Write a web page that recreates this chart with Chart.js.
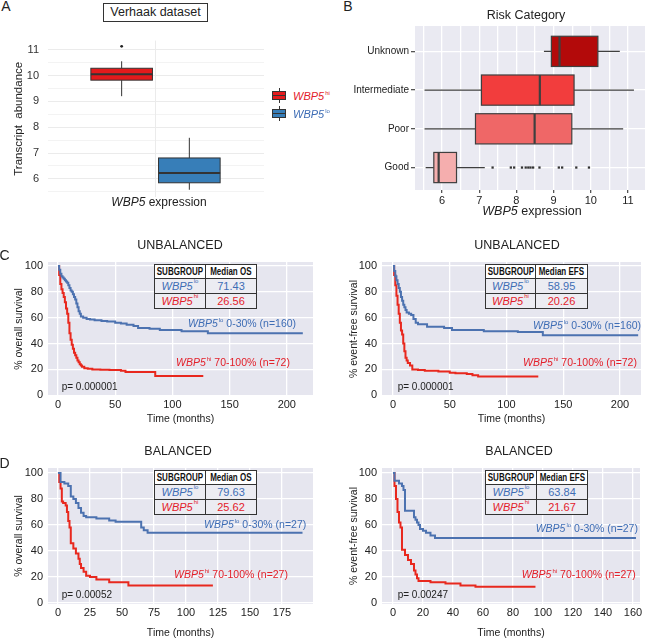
<!DOCTYPE html>
<html>
<head>
<meta charset="utf-8">
<title>WBP5 expression</title>
<script src="https://cdn.jsdelivr.net/npm/chart.js@4.4.1/dist/chart.umd.min.js"></script>
<style>
  body { margin: 0; background: #fff; }
  #fig { position: relative; width: 649px; height: 639px; overflow: hidden; font-family: "Liberation Sans", Arial, sans-serif; color: #222; }
  #fig canvas { position: absolute; }
  .t { position: absolute; white-space: nowrap; line-height: 1; }
  .c { transform: translate(-50%, -50%); }
  .l { transform: translateY(-50%); }
  sup { font-size: 6px; vertical-align: baseline; position: relative; top: -5px; font-style: normal; margin-left: 1px; }
  .blue { color: #3E6DB5; }
  .red { color: #E3202A; }
  .tbl { position: absolute; display: grid; background: #333; padding: 1px; gap: 1px; grid-template-rows: 13px 14px 14px; }
  .tbl div { display: flex; align-items: center; justify-content: center; background: #ECECF2; font-size: 11px; line-height: 1; white-space: nowrap; }
  .tbl .h { background: #fff; font-weight: bold; font-size: 10px; color: #111; }
  .tbl .h span { display: inline-block; transform: scaleX(0.8); }
  .box { position: absolute; box-sizing: border-box; }
</style>
</head>
<body>
<div id="fig">
  <canvas id="chartA" width="268" height="190" style="left:0px;top:25px"></canvas>
  <canvas id="chartB" width="319" height="197" style="left:330px;top:18px"></canvas>
  <canvas id="chartC1" width="325" height="175" style="left:0px;top:250px"></canvas>
  <canvas id="chartC2" width="324" height="175" style="left:325px;top:250px"></canvas>
  <canvas id="chartD1" width="325" height="184" style="left:0px;top:455px"></canvas>
  <canvas id="chartD2" width="324" height="184" style="left:325px;top:455px"></canvas>
</div>
<script>
// Panel A: Verhaak dataset (whisker low, Q1, median, Q3, whisker high)
const aTicks = [6, 7, 8, 9, 10, 11];
const aPos = [-0.5, 0.5];
const aHiStats = [9.2, 9.82, 10.05, 10.28, 10.55];
const aLoStats = [5.58, 5.85, 6.23, 6.81, 7.59];
const aHiOutliers = [11.13];

// Panel B: risk category
const riskCats = ['Unknown', 'Intermediate', 'Poor', 'Good'];
const bTicks = [6, 7, 8, 9, 10, 11];
const unknownStats = [8.74, 8.94, 9.16, 10.19, 10.78];
const interStats = [5.53, 7.06, 8.63, 9.55, 11.16];
const poorStats = [5.53, 6.9, 8.49, 9.49, 10.87];
const goodStats = [5.56, 5.78, 5.91, 6.39, 7.15];
const goodOutliers = [7.36, 7.85, 7.94, 8.15, 8.25, 8.32, 8.38, 8.45, 8.62, 9.14, 9.23, 9.61, 9.95];
const riskStats = [unknownStats, interStats, poorStats, goodStats];
const riskFills = ['#B30A0A', '#F23D3D', '#EF6767', '#F5AEAE'];

// Kaplan-Meier curves (months, % surviving)
const survTicks = [0, 20, 40, 60, 80, 100];
const timeTicksC = [0, 50, 100, 150, 200];
const timeTicksD1 = [0, 25, 50, 75, 100, 125, 150, 175];
const timeTicksD2 = [0, 20, 40, 60, 80, 100, 120, 140, 160];

const osUnbLoT = [0, 1, 2, 3, 4, 5, 6, 7, 8, 9, 10, 11, 12, 13, 14, 15, 16, 17, 18, 19, 20, 22, 25, 28, 32, 38, 43, 50, 55, 60, 66, 70, 80, 89, 100, 108, 131, 214];
const osUnbLoS = [100, 97, 94, 92, 91, 90, 89, 88, 87, 85, 83, 81, 80, 78, 76, 74, 71, 68, 65, 63, 61, 60, 59, 58.5, 58, 57.5, 57, 56, 55.5, 54.5, 53.5, 52, 51.5, 50.5, 50.5, 49.5, 48, 48];
const osUnbHiT = [0, 1, 2, 3, 4, 5, 6, 7, 8, 9, 10, 11, 12, 13, 14, 15, 16, 17, 18, 19, 20, 21, 23, 26, 30, 37, 45, 55, 59, 85, 127];
const osUnbHiS = [100, 93, 86, 82, 79, 76, 72, 67, 63, 56, 48, 43, 39, 36, 33, 31, 29, 27, 25.5, 24, 23, 22, 21, 20.5, 20, 19.8, 19.5, 19, 18, 15, 15];

const efsUnbLoT = [0, 1, 2, 3, 4, 5, 6, 7, 8, 9, 10, 11, 12, 14, 16, 18, 20, 22, 28, 30, 45, 52, 80, 110, 132, 216];
const efsUnbLoS = [100, 96, 92, 89, 86, 83, 80, 76, 73, 70, 68, 66, 64, 63, 62, 59, 56, 55, 55, 53, 52, 50.5, 49.5, 49, 46.5, 46.5];
const efsUnbHiT = [0, 1, 2, 3, 4, 5, 6, 7, 8, 9, 10, 11, 12, 13, 15, 17, 22, 28, 40, 50, 55, 65, 70, 75, 128];
const efsUnbHiS = [100, 93, 85, 77, 70, 63, 56, 50, 47, 40, 34, 29, 27, 25, 23, 20, 19.5, 19, 18.5, 17.5, 17, 16.5, 15.5, 14.5, 14.5];

const osBalLoT = [0, 2, 5, 8, 10, 12, 14, 16, 18, 20, 22, 30, 40, 45, 65, 67, 70, 191];
const osBalLoS = [100, 93, 92, 90, 82, 80, 77, 73, 69.5, 67, 66, 65, 63.5, 62.5, 58, 56, 54, 54];
const osBalHiT = [0, 1, 2, 3, 4, 6, 7, 8, 9, 10, 12, 14, 16, 17, 18, 20, 22, 25, 30, 40, 55, 121];
const osBalHiS = [100, 93, 88, 78, 77, 75, 70, 63, 58, 46, 42, 38, 34, 30, 27, 24, 21, 20, 18, 16, 13.5, 13.5];

const efsBalLoT = [0, 1, 4, 6, 7, 8, 14, 15, 16, 17, 18, 20, 22, 25, 28, 162];
const efsBalLoS = [100, 94, 92, 90, 87, 71, 66, 64, 62, 60, 57, 55.5, 54, 52, 50, 50];
const efsBalHiT = [0, 1, 2, 3, 4, 5, 6, 8, 10, 12, 14, 15, 16, 17, 25, 35, 45, 55, 95];
const efsBalHiS = [100, 90, 80, 70, 62, 58, 41, 37, 33, 30, 25, 22, 19, 17, 16, 15, 13.5, 12.5, 12.5];

// median survival tables (lo, hi)
const medOsUnb = [71.43, 26.56];
const medEfsUnb = [58.95, 20.26];
const medOsBal = [79.63, 25.62];
const medEfsBal = [63.84, 21.67];

const KM_BLUE = '#4C72B0';
const KM_RED = '#E8281E';

Chart.defaults.font.family = '"Liberation Sans", Arial, sans-serif';
Chart.defaults.color = '#222';
Chart.defaults.animation = false;

const pts = (t, s) => t.map((v, i) => ({ x: v, y: s[i] }));

// grey plot background
const areaBg = {
  id: 'areaBg',
  beforeDraw(chart, args, opts) {
    if (!opts.color) return;
    const { ctx, chartArea: a } = chart;
    ctx.save();
    ctx.fillStyle = opts.color;
    ctx.fillRect(a.left, a.top, a.right - a.left, a.bottom - a.top);
    ctx.restore();
  }
};

// box and whiskers drawn through the chart scales
const boxPlot = {
  id: 'boxPlot',
  afterDatasetsDraw(chart, args, opts) {
    if (!opts.boxes) return;
    const ctx = chart.ctx;
    const hz = opts.horizontal;
    const vs = hz ? chart.scales.x : chart.scales.y;
    const ps = hz ? chart.scales.y : chart.scales.x;
    ctx.save();
    ctx.beginPath();
    ctx.rect(chart.chartArea.left, chart.chartArea.top, chart.chartArea.right - chart.chartArea.left, chart.chartArea.bottom - chart.chartArea.top);
    ctx.clip();
    for (const b of opts.boxes) {
      const c = ps.getPixelForValue(b.pos);
      const half = Math.abs(ps.getPixelForValue(b.pos + opts.width / 2) - c);
      const p = b.stats.map(v => vs.getPixelForValue(v));
      ctx.strokeStyle = opts.stroke;
      ctx.lineWidth = opts.lw;
      ctx.beginPath();
      if (hz) {
        ctx.moveTo(p[0], c); ctx.lineTo(p[1], c);
        ctx.moveTo(p[3], c); ctx.lineTo(p[4], c);
      } else {
        ctx.moveTo(c, p[0]); ctx.lineTo(c, p[1]);
        ctx.moveTo(c, p[3]); ctx.lineTo(c, p[4]);
      }
      ctx.stroke();
      ctx.fillStyle = b.fill;
      if (hz) {
        ctx.fillRect(p[1], c - half, p[3] - p[1], 2 * half);
        ctx.strokeRect(p[1], c - half, p[3] - p[1], 2 * half);
      } else {
        const top = Math.min(p[1], p[3]);
        ctx.fillRect(c - half, top, 2 * half, Math.abs(p[3] - p[1]));
        ctx.strokeRect(c - half, top, 2 * half, Math.abs(p[3] - p[1]));
      }
      ctx.lineWidth = opts.mlw;
      ctx.beginPath();
      if (hz) { ctx.moveTo(p[2], c - half); ctx.lineTo(p[2], c + half); }
      else { ctx.moveTo(c - half, p[2]); ctx.lineTo(c + half, p[2]); }
      ctx.stroke();
    }
    ctx.restore();
  }
};

// Panel A
new Chart(document.getElementById('chartA'), {
  type: 'scatter',
  data: {
    datasets: [{
      data: aHiOutliers.map(v => ({ x: aPos[0], y: v })),
      pointRadius: 1.4, backgroundColor: '#222', borderWidth: 0
    }]
  },
  options: {
    responsive: false, events: [],
    layout: { padding: { left: 12, right: 3, top: 1, bottom: 0 } },
    plugins: {
      legend: { display: false }, tooltip: { enabled: false },
      boxPlot: {
        horizontal: false, width: 0.91, stroke: '#333', lw: 1, mlw: 2,
        boxes: [
          { pos: aPos[0], stats: aHiStats, fill: '#E41A1C' },
          { pos: aPos[1], stats: aLoStats, fill: '#377EB8' }
        ]
      }
    },
    scales: {
      x: {
        type: 'linear', min: -1.588, max: 1.603,
        afterBuildTicks: s => { s.ticks = [{ value: 0 }]; },
        afterFit: s => { s.height = 18; },
        ticks: { display: false },
        grid: { color: '#EBEBEB', drawTicks: false },
        border: { display: false }
      },
      y: {
        type: 'linear', min: 5.3, max: 11.35,
        afterBuildTicks: s => { s.ticks = aTicks.flatMap(v => [v - 0.5, v]).map(v => ({ value: v })); },
        afterFit: s => { s.width = 36; },
        ticks: { autoSkip: false, padding: 9, font: { size: 11 }, color: '#333', callback: v => Number.isInteger(v) ? v : '' },
        grid: { color: '#EBEBEB', lineWidth: c => Number.isInteger(c.tick.value) ? 1.1 : 0.6, drawTicks: false },
        border: { display: false },
        title: { display: true, text: 'Transcript  abundance', font: { size: 11.5 }, color: '#222', padding: 0 }
      }
    }
  },
  plugins: [boxPlot]
});

// Panel B
new Chart(document.getElementById('chartB'), {
  type: 'scatter',
  data: {
    datasets: [{
      data: goodOutliers.map(v => ({ x: v, y: 0 })),
      pointStyle: 'rect', pointRadius: 1.6, backgroundColor: '#333', borderWidth: 0
    }]
  },
  options: {
    responsive: false, events: [],
    layout: { padding: { left: 0, right: 4, top: 4, bottom: 0 } },
    plugins: {
      legend: { display: false }, tooltip: { enabled: false },
      areaBg: { color: '#EAEAF2' },
      boxPlot: {
        horizontal: true, width: 0.78, stroke: '#3F3F3F', lw: 1.2, mlw: 2.2,
        boxes: riskCats.map((c, i) => ({ pos: 3 - i, stats: riskStats[i], fill: riskFills[i] }))
      }
    },
    scales: {
      x: {
        type: 'linear', min: 5.274, max: 11.457,
        afterBuildTicks: s => { s.ticks = bTicks.flatMap(v => [v - 0.5, v]).map(v => ({ value: v })); },
        afterFit: s => { s.height = 25; },
        ticks: { autoSkip: false, maxRotation: 0, padding: 1, font: { size: 11 }, color: '#222', callback: v => Number.isInteger(v) ? v : '' },
        grid: { color: '#fff', lineWidth: 1.3, tickLength: 3, tickColor: c => Number.isInteger(c.tick.value) ? '#555' : 'rgba(0,0,0,0)' },
        border: { display: false }
      },
      y: {
        type: 'linear', min: -0.58, max: 3.655,
        afterBuildTicks: s => { s.ticks = riskCats.map((c, i) => ({ value: 3 - i })); },
        afterFit: s => { s.width = 85; },
        ticks: { autoSkip: false, padding: 2, font: { size: 10 }, color: '#222', callback: v => riskCats[3 - v] },
        grid: { color: '#fff', lineWidth: 1.3, tickLength: 4, tickColor: '#555' },
        border: { display: false }
      }
    }
  },
  plugins: [areaBg, boxPlot]
});

// Panels C and D
function kmChart(id, o) {
  new Chart(document.getElementById(id), {
    type: 'line',
    data: {
      datasets: [
        { data: pts(o.loT, o.loS), borderColor: KM_BLUE, borderWidth: 2, stepped: true, pointRadius: 0, fill: false },
        { data: pts(o.hiT, o.hiS), borderColor: KM_RED, borderWidth: 2, stepped: true, pointRadius: 0, fill: false }
      ]
    },
    options: {
      responsive: false, events: [],
      layout: { padding: { left: o.padL, right: o.padR, top: o.padT, bottom: 0 } },
      plugins: { legend: { display: false }, tooltip: { enabled: false }, areaBg: { color: '#E6E6EF' } },
      scales: {
        x: {
          type: 'linear', min: o.xMin, max: o.xMax,
          afterBuildTicks: s => { s.ticks = o.xTicks.map(v => ({ value: v })); },
          afterFit: s => { s.height = o.xH; },
          ticks: { autoSkip: false, maxRotation: 0, padding: 2, font: { size: 11 }, color: '#222' },
          grid: { color: '#fff', lineWidth: 1.3, drawTicks: false },
          border: { display: false },
          title: { display: true, text: 'Time (months)', font: { size: 10.5 }, color: '#222', padding: 0 }
        },
        y: {
          type: 'linear', min: o.yMin, max: o.yMax,
          afterBuildTicks: s => { s.ticks = survTicks.map(v => ({ value: v })); },
          afterFit: s => { s.width = o.yW; },
          ticks: { autoSkip: false, padding: 5, font: { size: 11 }, color: '#222' },
          grid: { color: '#fff', lineWidth: 1.3, drawTicks: false },
          border: { display: false },
          title: { display: true, text: o.yTitle, font: { size: 10.5 }, color: '#222', padding: 0 }
        }
      }
    },
    plugins: [areaBg]
  });
}

kmChart('chartC1', { loT: osUnbLoT, loS: osUnbLoS, hiT: osUnbHiT, hiS: osUnbHiS, xTicks: timeTicksC,
  xMin: -8.74, xMax: 222.9, yMin: -0.5, yMax: 103, padL: 13, yW: 35, padR: 12, padT: 12, xH: 29, yTitle: '% overall survival' });
kmChart('chartC2', { loT: efsUnbLoT, loS: efsUnbLoS, hiT: efsUnbHiT, hiS: efsUnbHiS, xTicks: timeTicksC,
  xMin: -9.7, xMax: 218.5, yMin: -0.5, yMax: 103, padL: 23, yW: 34, padR: 8, padT: 12, xH: 29, yTitle: '% event-free survival' });
kmChart('chartD1', { loT: osBalLoT, loS: osBalLoS, hiT: osBalHiT, hiS: osBalHiS, xTicks: timeTicksD1,
  xMin: -7.8, xMax: 199.2, yMin: -0.77, yMax: 103.85, padL: 13, yW: 35, padR: 12, padT: 13, xH: 35, yTitle: '% overall survival' });
kmChart('chartD2', { loT: efsBalLoT, loS: efsBalLoS, hiT: efsBalHiT, hiS: efsBalHiS, xTicks: timeTicksD2,
  xMin: -7.33, xMax: 164.7, yMin: -0.77, yMax: 103.85, padL: 23, yW: 34, padR: 9, padT: 13, xH: 35, yTitle: '% event-free survival' });

// text, tables and legend
const fig = document.getElementById('fig');
function put(html, x, y, cls, style) {
  const d = document.createElement('div');
  d.className = 't ' + cls;
  d.style.left = x + 'px';
  d.style.top = y + 'px';
  if (style) d.style.cssText += style;
  d.innerHTML = html;
  fig.appendChild(d);
}
function table(x, y, c1, c2, head, vals) {
  const d = document.createElement('div');
  d.className = 'tbl';
  d.style.left = x + 'px';
  d.style.top = y + 'px';
  d.style.gridTemplateColumns = c1 + 'px ' + c2 + 'px';
  d.innerHTML = '<div class="h"><span>SUBGROUP</span></div><div class="h"><span>' + head + '</span></div>' +
    '<div class="blue"><i>WBP5</i><sup>lo</sup></div><div class="blue">' + vals[0].toFixed(2) + '</div>' +
    '<div class="red"><i>WBP5</i><sup>hi</sup></div><div class="red">' + vals[1].toFixed(2) + '</div>';
  fig.appendChild(d);
}
function key(x, y, fill) {
  const parts = [
    [x + 6.5, y - 3, 1, 15, '#333', ''],
    [x, y, 14, 9, fill, 'border:1px solid #333;'],
    [x, y + 4, 14, 1.4, '#333', '']
  ];
  for (const [l, t, w, h, bg, extra] of parts) {
    const d = document.createElement('div');
    d.className = 'box';
    d.style.cssText = 'left:' + l + 'px;top:' + t + 'px;width:' + w + 'px;height:' + h + 'px;background:' + bg + ';' + extra;
    fig.appendChild(d);
  }
}

const lo = '<i>WBP5</i><sup>lo</sup>';
const hi = '<i>WBP5</i><sup>hi</sup>';

// panel letters
put('A', 6, 5.5, 'c', 'font-size:14px');
put('B', 348, 6, 'c', 'font-size:14px');
put('C', 4.5, 254.5, 'c', 'font-size:14px');
put('D', 4.5, 463, 'c', 'font-size:14px');

// panel A
const tb = document.createElement('div');
tb.className = 'box';
tb.style.cssText = 'left:103px;top:3px;width:105px;height:19px;border:1px solid #333;display:flex;align-items:center;justify-content:center;font-size:12.5px;line-height:1;';
tb.textContent = 'Verhaak dataset';
fig.appendChild(tb);
put('<i>WBP5</i> expression', 159, 202, 'c', 'font-size:12px');
key(272, 91, '#E41A1C');
key(272, 109, '#377EB8');
put(hi, 293, 95.5, 'l red', 'font-size:11px');
put(lo, 293, 113.5, 'l blue', 'font-size:11px');

// panel B
put('Risk Category', 526, 14.5, 'c', 'font-size:12.5px');
put('<i>WBP5</i> expression', 532, 211, 'c', 'font-size:12.5px');

// titles
put('UNBALANCED', 180, 244.7, 'c', 'font-size:12.5px');
put('UNBALANCED', 517, 244.7, 'c', 'font-size:12.5px');
put('BALANCED', 178, 451.2, 'c', 'font-size:12.5px');
put('BALANCED', 519, 451.2, 'c', 'font-size:12.5px');

// tables
table(154, 264, 50, 50, 'Median OS', medOsUnb);
table(485, 264, 49, 51, 'Median EFS', medEfsUnb);
table(154, 470, 50, 50, 'Median OS', medOsBal);
table(485, 470, 50, 50, 'Median EFS', medEfsBal);

// curve labels
const ann = 'font-size:10.5px';
put(lo + ' 0-30% (n=160)', 188, 322.8, 'l blue', ann);
put(hi + ' 70-100% (n=72)', 176, 361.7, 'l red', ann);
put('p= 0.000001', 61.7, 387, 'l', 'font-size:10px');
put(lo + ' 0-30% (n=160)', 533, 325, 'l blue', ann);
put(hi + ' 70-100% (n=72)', 523, 361.7, 'l red', ann);
put('p= 0.000001', 397.7, 387, 'l', 'font-size:10px');
put(lo + ' 0-30% (n=27)', 204, 524.2, 'l blue', ann);
put(hi + ' 70-100% (n=27)', 174, 574.2, 'l red', ann);
put('p= 0.00052', 61.7, 595.3, 'l', 'font-size:10px');
put(lo + ' 0-30% (n=27)', 535.7, 527.5, 'l blue', ann);
put(hi + ' 70-100% (n=27)', 521.7, 574.2, 'l red', ann);
put('p= 0.00247', 397.7, 595.3, 'l', 'font-size:10px');
</script>
</body>
</html>
